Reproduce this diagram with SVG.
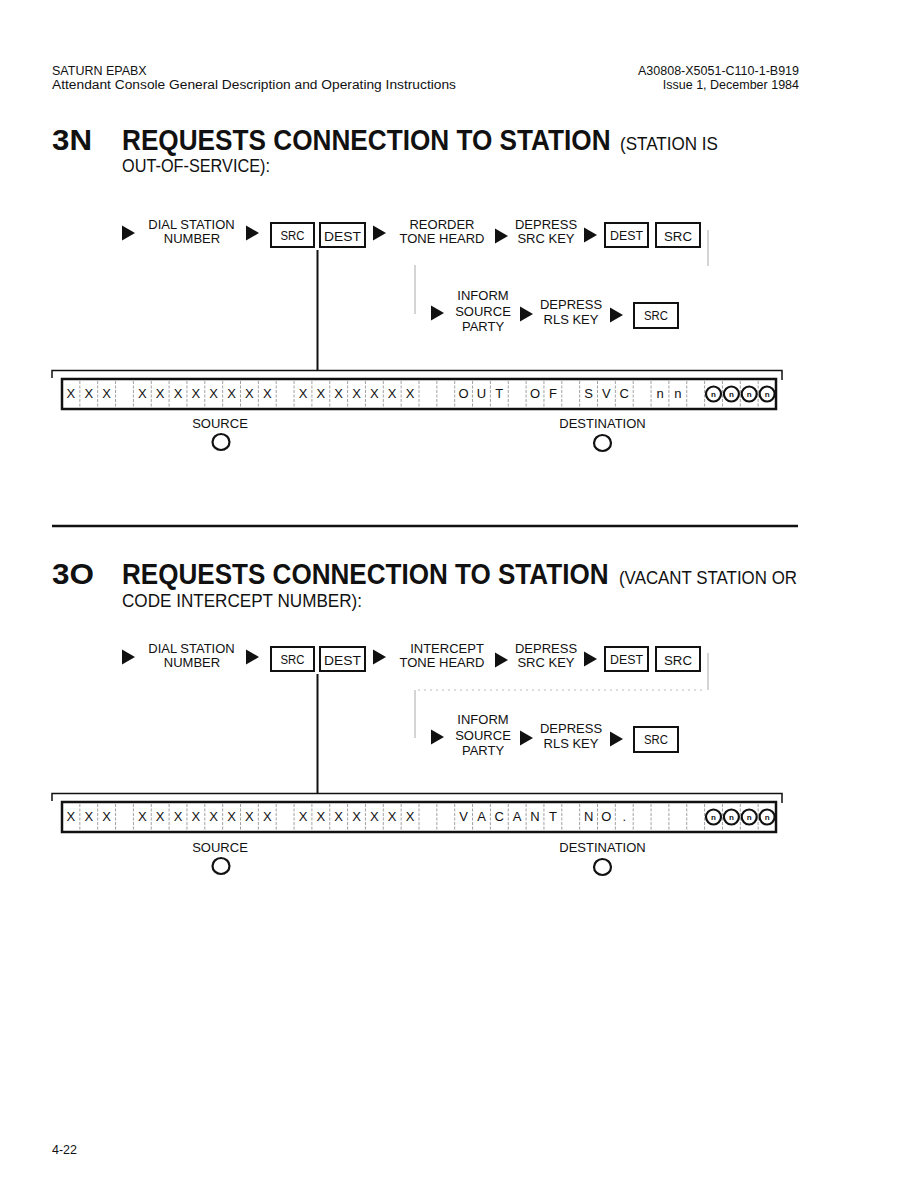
<svg xmlns="http://www.w3.org/2000/svg" xmlns:xlink="http://www.w3.org/1999/xlink" width="918" height="1188" viewBox="0 0 918 1188">
<style>
text{font-family:"Liberation Sans",Arial,sans-serif;fill:#111}
.hdr{font-size:12.5px}
.ttl{font-size:30px;font-weight:bold}
.sub{font-size:18px}
.lbl{font-size:13px;text-anchor:middle}
.box{fill:#fff;stroke:#111;stroke-width:2}
.bt{font-size:12px;text-anchor:middle}
.bar{fill:#fff;stroke:#111;stroke-width:2.5}
.cell{fill:none;stroke:#8a8a8a;stroke-width:0.8;stroke-dasharray:3 1.5}
.ch{font-size:13px;text-anchor:middle}
.cn{font-size:8px;text-anchor:middle;font-weight:bold}
.ring{fill:none;stroke:#111;stroke-width:2.2}
.ln{fill:none;stroke:#111;stroke-width:2}
.thin{fill:none;stroke:#111;stroke-width:1.5}
.faint{fill:none;stroke:#aaa;stroke-width:1}
.faintd{fill:none;stroke:#bbb;stroke-width:1;stroke-dasharray:2 4}
</style>
<defs>
<path id="tri" d="M0,-7.5 L13,0 L0,7.5 Z" fill="#111"/>
<path id="cells" class="cell" d="M79.85,2v26M97.7,2v26M115.55,2v26M133.4,2v26M151.25,2v26M169.1,2v26M186.95,2v26M204.8,2v26M222.65,2v26M240.5,2v26M258.35,2v26M276.2,2v26M294.05,2v26M311.9,2v26M329.75,2v26M347.6,2v26M365.45,2v26M383.3,2v26M401.15,2v26M419,2v26M436.85,2v26M454.7,2v26M472.55,2v26M490.4,2v26M508.25,2v26M526.1,2v26M543.95,2v26M561.8,2v26M579.65,2v26M597.5,2v26M615.35,2v26M633.2,2v26M651.05,2v26M668.9,2v26M686.75,2v26M704.6,2v26M722.45,2v26M740.3,2v26M758.15,2v26"/>
<g id="circn">
<circle class="ring" cx="0" cy="0" r="7.5"/>
<text class="cn" x="0" y="2.8">n</text>
</g>
<g id="xs">
<text class="ch" x="70.9" y="0">X</text><text class="ch" x="88.8" y="0">X</text><text class="ch" x="106.6" y="0">X</text>
<text class="ch" x="142.3" y="0">X</text><text class="ch" x="160.2" y="0">X</text><text class="ch" x="178" y="0">X</text><text class="ch" x="195.9" y="0">X</text><text class="ch" x="213.7" y="0">X</text><text class="ch" x="231.6" y="0">X</text><text class="ch" x="249.4" y="0">X</text><text class="ch" x="267.3" y="0">X</text>
<text class="ch" x="303" y="0">X</text><text class="ch" x="320.8" y="0">X</text><text class="ch" x="338.7" y="0">X</text><text class="ch" x="356.5" y="0">X</text><text class="ch" x="374.4" y="0">X</text><text class="ch" x="392.2" y="0">X</text><text class="ch" x="410.1" y="0">X</text>
</g>
</defs>

<g id="header">
<text class="hdr" x="52" y="75">SATURN EPABX</text>
<text class="hdr" x="52" y="89" textLength="404" lengthAdjust="spacingAndGlyphs">Attendant Console General Description and Operating Instructions</text>
<text class="hdr" x="799" y="75" text-anchor="end">A30808-X5051-C110-1-B919</text>
<text class="hdr" x="799" y="89" text-anchor="end">Issue 1, December 1984</text>
</g>

<!-- ===== 3N ===== -->
<g id="title-3N">
<text class="ttl" x="52" y="150" textLength="40" lengthAdjust="spacingAndGlyphs">3N</text>
<text class="ttl" transform="translate(122 150) scale(0.873 1)" x="0" y="0">REQUESTS CONNECTION TO STATION</text>
<text class="sub" x="620" y="150" textLength="98" lengthAdjust="spacingAndGlyphs">(STATION IS</text>
<text class="sub" x="122" y="172" textLength="148" lengthAdjust="spacingAndGlyphs">OUT-OF-SERVICE):</text>
</g>

<g id="n-dial-3N">
<use href="#tri" x="122" y="233"/>
<text class="lbl" x="191.5" y="229">DIAL STATION</text>
<text class="lbl" x="192" y="243">NUMBER</text>
</g>
<g id="n-keys1-3N">
<use href="#tri" x="246" y="233"/>
<rect class="box" x="271" y="223" width="43" height="24"/>
<text class="bt" x="292.5" y="240" textLength="24" lengthAdjust="spacingAndGlyphs">SRC</text>
<rect class="box" x="320" y="223" width="45" height="24"/>
<text class="bt" x="342.5" y="240.5" font-size="13" textLength="37" lengthAdjust="spacingAndGlyphs">DEST</text>
</g>
<g id="n-tone-3N">
<use href="#tri" x="373" y="233"/>
<text class="lbl" x="442" y="229">REORDER</text>
<text class="lbl" x="442" y="243">TONE HEARD</text>
</g>
<g id="n-depsrc-3N">
<use href="#tri" x="495" y="236"/>
<text class="lbl" x="546" y="229">DEPRESS</text>
<text class="lbl" x="546" y="243">SRC KEY</text>
</g>
<g id="n-keys2-3N">
<use href="#tri" x="584" y="235"/>
<rect class="box" x="605" y="223" width="43" height="24"/>
<text class="bt" x="626.5" y="240" textLength="33" lengthAdjust="spacingAndGlyphs">DEST</text>
<rect class="box" x="656" y="223" width="44" height="24"/>
<text class="bt" x="678" y="240.5" font-size="13" textLength="28" lengthAdjust="spacingAndGlyphs">SRC</text>
</g>
<g id="n-inform-3N">
<use href="#tri" x="431" y="313"/>
<text class="lbl" x="483" y="300">INFORM</text>
<text class="lbl" x="483" y="316">SOURCE</text>
<text class="lbl" x="483" y="331">PARTY</text>
</g>
<g id="n-deprls-3N">
<use href="#tri" x="520" y="314"/>
<text class="lbl" x="571" y="309">DEPRESS</text>
<text class="lbl" x="571" y="324">RLS KEY</text>
</g>
<g id="n-keys3-3N">
<use href="#tri" x="610" y="315"/>
<rect class="box" x="634" y="303" width="44" height="25"/>
<text class="bt" x="656" y="320" textLength="24" lengthAdjust="spacingAndGlyphs">SRC</text>
</g>

<g id="display-3N">
<rect class="bar" x="62" y="379" width="714" height="30"/>
<use href="#cells" x="0" y="379"/>
<use href="#xs" x="0" y="398"/>
<text class="ch" x="463.6" y="398">O</text><text class="ch" x="481.5" y="398">U</text><text class="ch" x="499.3" y="398">T</text>
<text class="ch" x="535" y="398">O</text><text class="ch" x="552.9" y="398">F</text>
<text class="ch" x="588.6" y="398">S</text><text class="ch" x="606.4" y="398">V</text><text class="ch" x="624.3" y="398">C</text>
<text class="ch" x="660" y="398">n</text><text class="ch" x="677.8" y="398">n</text>
<use href="#circn" x="713.5" y="394"/><use href="#circn" x="731.4" y="394"/><use href="#circn" x="749.2" y="394"/><use href="#circn" x="767.1" y="394"/>
</g>

<g id="lamps-3N">
<text class="lbl" x="220" y="428">SOURCE</text>
<ellipse class="ring" cx="221" cy="442" rx="8.5" ry="8"/>
<text class="lbl" x="602.5" y="428">DESTINATION</text>
<ellipse class="ring" cx="602.5" cy="443" rx="8.5" ry="8"/>
</g>

<line id="rule" x1="52" y1="526" x2="798" y2="526" stroke="#111" stroke-width="2.5"/>

<!-- ===== 3O ===== -->
<g id="title-3O">
<text class="ttl" x="52" y="584" textLength="42" lengthAdjust="spacingAndGlyphs">3O</text>
<text class="ttl" transform="translate(122 584) scale(0.869 1)" x="0" y="0">REQUESTS CONNECTION TO STATION</text>
<text class="sub" x="619" y="584" textLength="178" lengthAdjust="spacingAndGlyphs">(VACANT STATION OR</text>
<text class="sub" x="122" y="607" textLength="240" lengthAdjust="spacingAndGlyphs">CODE INTERCEPT NUMBER):</text>
</g>

<g id="n-dial-3O">
<use href="#tri" x="122" y="657"/>
<text class="lbl" x="191.5" y="653">DIAL STATION</text>
<text class="lbl" x="192" y="667">NUMBER</text>
</g>
<g id="n-keys1-3O">
<use href="#tri" x="246" y="657"/>
<rect class="box" x="271" y="647" width="43" height="24"/>
<text class="bt" x="292.5" y="664" textLength="24" lengthAdjust="spacingAndGlyphs">SRC</text>
<rect class="box" x="320" y="647" width="45" height="24"/>
<text class="bt" x="342.5" y="664.5" font-size="13" textLength="37" lengthAdjust="spacingAndGlyphs">DEST</text>
</g>
<g id="n-tone-3O">
<use href="#tri" x="373" y="657"/>
<text class="lbl" x="447" y="653">INTERCEPT</text>
<text class="lbl" x="442" y="667">TONE HEARD</text>
</g>
<g id="n-depsrc-3O">
<use href="#tri" x="495" y="660"/>
<text class="lbl" x="546" y="653">DEPRESS</text>
<text class="lbl" x="546" y="667">SRC KEY</text>
</g>
<g id="n-keys2-3O">
<use href="#tri" x="584" y="659"/>
<rect class="box" x="605" y="647" width="43" height="24"/>
<text class="bt" x="626.5" y="664" textLength="33" lengthAdjust="spacingAndGlyphs">DEST</text>
<rect class="box" x="656" y="647" width="44" height="24"/>
<text class="bt" x="678" y="664.5" font-size="13" textLength="28" lengthAdjust="spacingAndGlyphs">SRC</text>
</g>
<g id="n-inform-3O">
<use href="#tri" x="431" y="737"/>
<text class="lbl" x="483" y="724">INFORM</text>
<text class="lbl" x="483" y="740">SOURCE</text>
<text class="lbl" x="483" y="755">PARTY</text>
</g>
<g id="n-deprls-3O">
<use href="#tri" x="520" y="738"/>
<text class="lbl" x="571" y="733">DEPRESS</text>
<text class="lbl" x="571" y="748">RLS KEY</text>
</g>
<g id="n-keys3-3O">
<use href="#tri" x="610" y="739"/>
<rect class="box" x="634" y="727" width="44" height="25"/>
<text class="bt" x="656" y="744" textLength="24" lengthAdjust="spacingAndGlyphs">SRC</text>
</g>

<g id="display-3O">
<rect class="bar" x="62" y="802" width="714" height="30"/>
<use href="#cells" x="0" y="802"/>
<use href="#xs" x="0" y="821"/>
<text class="ch" x="463.6" y="821">V</text><text class="ch" x="481.5" y="821">A</text><text class="ch" x="499.3" y="821">C</text><text class="ch" x="517.2" y="821">A</text><text class="ch" x="535" y="821">N</text><text class="ch" x="552.9" y="821">T</text>
<text class="ch" x="588.6" y="821">N</text><text class="ch" x="606.4" y="821">O</text><text class="ch" x="624.3" y="821">.</text>
<use href="#circn" x="713.5" y="817"/><use href="#circn" x="731.4" y="817"/><use href="#circn" x="749.2" y="817"/><use href="#circn" x="767.1" y="817"/>
</g>

<g id="lamps-3O">
<text class="lbl" x="220" y="852">SOURCE</text>
<ellipse class="ring" cx="221" cy="866" rx="8.5" ry="8"/>
<text class="lbl" x="602.5" y="852">DESTINATION</text>
<ellipse class="ring" cx="602.5" cy="867" rx="8.5" ry="8"/>
</g>

<g id="connectors">
<line class="ln" x1="317.5" y1="250" x2="317.5" y2="370"/>
<path class="thin" d="M52,378 V370.5 H782 V380"/>
<line class="faint" x1="415" y1="265" x2="415" y2="314"/>
<line class="faint" x1="708" y1="230" x2="708" y2="266"/>
<line class="ln" x1="317.5" y1="674" x2="317.5" y2="793"/>
<path class="thin" d="M52,801 V793.5 H782 V803"/>
<line class="faint" x1="415" y1="690" x2="415" y2="738"/>
<line class="faintd" x1="418" y1="690" x2="706" y2="690"/>
<line class="faint" x1="708" y1="653" x2="708" y2="690"/>
</g>

<text id="page" class="hdr" x="52" y="1154">4-22</text>
</svg>
